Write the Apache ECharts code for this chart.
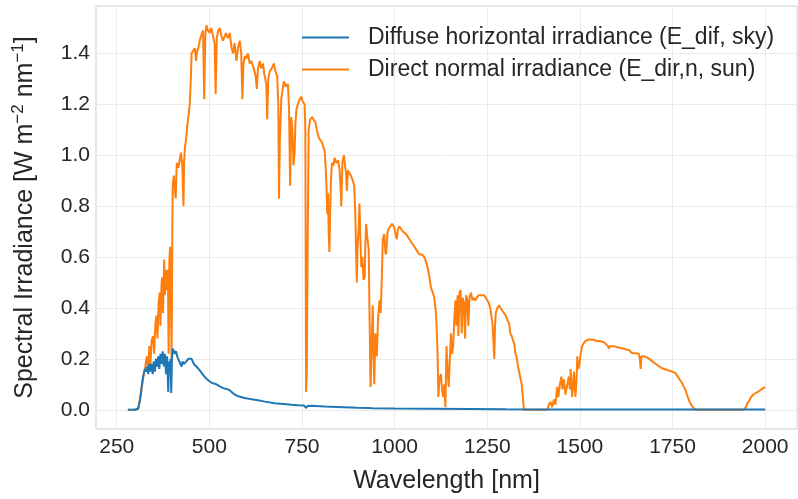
<!DOCTYPE html>
<html>
<head>
<meta charset="utf-8">
<script src="https://cdn.jsdelivr.net/npm/echarts@6/dist/echarts.min.js"></script>
<style>html,body{margin:0;padding:0;background:#fff;}#c{width:798px;height:499px;}</style>
</head>
<body>
<div id="c"></div>
<script>
const xTicks = [250, 500, 750, 1000, 1250, 1500, 1750, 2000];
const yTicks = [0, 0.2, 0.4, 0.6, 0.8, 1.0, 1.2, 1.4];
const seriesNames = ['Diffuse horizontal irradiance (E_dif, sky)', 'Direct normal irradiance (E_dir,n, sun)'];

const directWl = [280,290,300,308,315,322,327,331,335,338,341,344,348,351,354,357,360,363,366,368,371,373,375,378,380,382,385,388,390,392,394,396,398,400,401,404,407,409,412,416,420,423,427,430,432,434,437,440,444,447,450,452,456,461,464,467,470,474,478,483,486,489,492,496,501,505,510,514,517,520,524,528,532,537,541,545,550,555,560,564,568,573,577,582,586,589,592,596,600,604,609,613,618,622,625,628,631,636,640,645,648,651,654,656,659,663,668,674,678,683,686,688,690,694,697,701,706,712,715,718,721,724,727,730,732,735,739,744,748,752,757,759,761,763,765,768,772,777,781,786,790,795,799,804,808,811,814,816,818,820,822,824,826,828,831,835,838,842,847,851,854,856,859,863,866,869,871,874,878,882,887,891,894,896,898,900,903,905,908,910,913,916,919,921,923,926,930,932,935,938,941,943,945,948,952,955,959,962,964,966,968,972,975,977,981,984,988,993,998,1002,1006,1009,1013,1022,1031,1040,1049,1058,1067,1074,1080,1085,1089,1094,1098,1103,1107,1110,1112,1114,1116,1118,1121,1125,1128,1131,1134,1137,1140,1143,1146,1149,1152,1155,1158,1161,1164,1167,1170,1172,1175,1178,1181,1184,1187,1190,1193,1196,1199,1202,1206,1210,1213,1218,1222,1227,1233,1238,1242,1246,1250,1254,1258,1261,1264,1267,1269,1271,1273,1277,1282,1286,1291,1295,1300,1305,1309,1312,1316,1320,1323,1326,1329,1332,1336,1340,1343,1345,1347,1349,1380,1412,1416,1421,1425,1430,1434,1439,1442,1446,1450,1453,1457,1461,1466,1470,1473,1475,1479,1484,1486,1488,1491,1493,1496,1499,1502,1506,1510,1515,1520,1524,1530,1538,1545,1551,1558,1565,1570,1576,1578,1580,1585,1592,1598,1605,1612,1619,1625,1632,1637,1641,1645,1650,1655,1659,1662,1664,1666,1668,1672,1677,1682,1686,1690,1695,1700,1708,1714,1722,1728,1735,1742,1749,1754,1758,1762,1767,1771,1776,1780,1785,1790,1795,1800,1806,1812,1850,1900,1942,1948,1952,1957,1962,1968,1973,1980,1985,1990,1995,2000];
const directVal = [0,0,0,0.005,0.06,0.13,0.17,0.21,0.16,0.25,0.18,0.27,0.29,0.22,0.33,0.37,0.28,0.42,0.46,0.33,0.50,0.52,0.38,0.59,0.45,0.55,0.47,0.55,0.22,0.58,0.64,0.45,0.20,0.70,0.88,0.92,0.86,0.83,0.97,0.95,0.98,1.01,0.96,0.80,0.98,1.03,1.06,1.11,1.16,1.20,1.30,1.40,1.41,1.42,1.37,1.41,1.42,1.45,1.47,1.49,1.22,1.47,1.51,1.49,1.48,1.50,1.50,1.44,1.24,1.46,1.49,1.50,1.47,1.45,1.45,1.48,1.46,1.48,1.42,1.40,1.44,1.37,1.42,1.45,1.40,1.22,1.36,1.39,1.38,1.40,1.36,1.37,1.35,1.35,1.31,1.26,1.34,1.37,1.34,1.36,1.32,1.30,1.27,1.14,1.30,1.33,1.34,1.36,1.33,1.31,1.20,0.83,1.05,1.22,1.25,1.29,1.27,1.28,1.18,0.88,1.15,1.10,0.96,1.01,1.12,1.18,1.20,1.22,1.23,1.21,1.20,1.10,0.07,0.15,0.60,1.10,1.14,1.15,1.14,1.13,1.10,1.07,1.06,1.05,1.03,1.02,0.95,0.88,0.77,0.85,0.70,0.62,0.78,0.90,0.97,0.96,0.99,0.97,0.98,0.95,0.88,0.80,0.97,1.00,0.96,0.93,0.86,0.94,0.94,0.92,0.90,0.88,0.76,0.62,0.50,0.64,0.72,0.81,0.65,0.56,0.60,0.51,0.52,0.65,0.73,0.68,0.63,0.40,0.09,0.25,0.41,0.22,0.10,0.30,0.21,0.35,0.43,0.38,0.45,0.55,0.67,0.69,0.62,0.61,0.70,0.71,0.72,0.73,0.72,0.72,0.67,0.71,0.72,0.70,0.69,0.67,0.65,0.63,0.61,0.61,0.60,0.58,0.56,0.52,0.48,0.46,0.44,0.40,0.37,0.30,0.22,0.05,0.12,0.14,0.08,0.05,0.10,0.01,0.25,0.15,0.09,0.20,0.30,0.22,0.25,0.35,0.43,0.33,0.45,0.29,0.46,0.47,0.30,0.44,0.42,0.28,0.45,0.43,0.33,0.44,0.46,0.43,0.44,0.43,0.44,0.45,0.45,0.45,0.45,0.44,0.44,0.42,0.40,0.37,0.34,0.26,0.20,0.33,0.38,0.40,0.41,0.40,0.40,0.38,0.37,0.35,0.34,0.30,0.29,0.27,0.26,0.22,0.21,0.18,0.15,0.12,0.10,0.07,0.03,0,0,0,0.02,0.03,0.01,0.04,0.02,0.09,0.05,0.10,0.13,0.08,0.12,0.06,0.10,0.13,0.08,0.16,0.05,0.15,0.09,0.05,0.12,0.21,0.16,0.18,0.22,0.25,0.26,0.27,0.275,0.277,0.275,0.275,0.27,0.27,0.268,0.265,0.26,0.25,0.24,0.25,0.25,0.25,0.247,0.245,0.242,0.24,0.237,0.235,0.228,0.222,0.222,0.222,0.22,0.22,0.20,0.16,0.21,0.215,0.21,0.21,0.205,0.203,0.197,0.19,0.185,0.177,0.17,0.163,0.16,0.157,0.153,0.15,0.147,0.144,0.135,0.125,0.115,0.105,0.092,0.078,0.055,0.035,0.02,0.008,0,0,0,0,0.01,0.025,0.035,0.05,0.06,0.065,0.07,0.075,0.08,0.085,0.09];

const diffuseWl = [280,300,308,313,317,321,326,329,332,335,338,341,344,347,350,353,356,359,362,365,368,371,374,377,380,383,386,389,391,393,395,397,399,401,404,407,410,413,416,419,422,425,428,431,434,438,443,447,452,458,465,474,483,492,501,510,519,528,537,553,568,580,595,610,631,650,676,700,721,740,755,761,765,775,811,863,900,930,935,940,1000,1100,1200,1300,1400,1500,1700,1800,2000];
const diffuseVal = [0,0,0.005,0.04,0.09,0.13,0.16,0.15,0.17,0.14,0.18,0.15,0.18,0.14,0.19,0.15,0.20,0.17,0.21,0.16,0.22,0.18,0.23,0.17,0.22,0.14,0.21,0.07,0.19,0.15,0.20,0.066,0.20,0.24,0.23,0.22,0.23,0.21,0.21,0.19,0.19,0.17,0.19,0.18,0.18,0.19,0.20,0.20,0.20,0.18,0.17,0.155,0.137,0.122,0.111,0.104,0.10,0.092,0.085,0.079,0.06,0.052,0.046,0.042,0.037,0.032,0.026,0.023,0.02,0.018,0.017,0.007,0.015,0.016,0.013,0.01,0.008,0.007,0.002,0.006,0.005,0.004,0.003,0.002,0.0015,0.0015,0.001,0.001,0.001];

const zip = (a, b) => a.map((v, i) => [v, b[i]]);
const FONT = 'Liberation Sans, Arial, sans-serif';
const TXT = '#262626';

const chart = echarts.init(document.getElementById('c'), null, {renderer: 'canvas'});
chart.setOption({
  animation: false,
  backgroundColor: '#ffffff',
  grid: {left: 96, right: 1, top: 6, bottom: 70, show: true, borderColor: '#cfcfcf', borderWidth: 1, containLabel: false},
  legend: {
    orient: 'vertical', left: 302, top: 26, padding: 0,
    icon: 'rect', itemWidth: 47, itemHeight: 2, itemGap: 9,
    textStyle: {fontFamily: FONT, fontSize: 23, color: TXT, lineHeight: 23, padding: [0, 0, 0, 14]},
    data: seriesNames
  },
  xAxis: {
    type: 'value', min: 194, max: 2086,
    name: 'Wavelength [nm]', nameLocation: 'middle', nameGap: 40,
    nameTextStyle: {fontFamily: FONT, fontSize: 25, color: TXT},
    axisLine: {show: false},
    axisTick: {show: false, customValues: xTicks},
    axisLabel: {customValues: xTicks, fontFamily: FONT, fontSize: 21, color: TXT, margin: 8,
      formatter: v => String(Math.round(v))},
    splitLine: {show: true, lineStyle: {color: '#ebebeb', width: 1}}
  },
  yAxis: {
    type: 'value', min: -0.0755, max: 1.586,
    name: 'Spectral Irradiance [W m{sup|\u22122} nm{sup|\u22121}]', nameLocation: 'middle', nameGap: 56,
    nameTextStyle: {fontFamily: FONT, fontSize: 25, color: TXT, lineHeight: 30,
      rich: {sup: {fontFamily: FONT, fontSize: 17, color: TXT, verticalAlign: 'top', lineHeight: 30}}},
    axisLine: {show: false},
    axisTick: {show: false, customValues: yTicks},
    axisLabel: {customValues: yTicks, fontFamily: FONT, fontSize: 21, color: TXT, margin: 6,
      formatter: v => Number(v).toFixed(1)},
    splitLine: {show: true, lineStyle: {color: '#ebebeb', width: 1}}
  },
  series: [
    {name: seriesNames[0], type: 'line', symbol: 'none', data: zip(diffuseWl, diffuseVal),
     lineStyle: {color: '#1f77b4', width: 2}, itemStyle: {color: '#1f77b4'}, z: 3},
    {name: seriesNames[1], type: 'line', symbol: 'none', data: zip(directWl, directVal),
     lineStyle: {color: '#ff7f0e', width: 2}, itemStyle: {color: '#ff7f0e'}, z: 2}
  ]
});
</script>
</body>
</html>
